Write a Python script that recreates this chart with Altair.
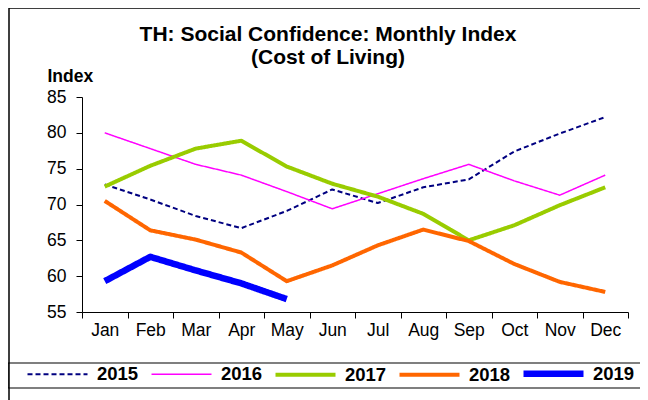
import altair as alt
import pandas as pd

months = ["Jan", "Feb", "Mar", "Apr", "May", "Jun", "Jul", "Aug", "Sep", "Oct", "Nov", "Dec"]
years = ["2015", "2016", "2017", "2018", "2019"]
v2015 = [72.8, 70.7, 68.4, 66.7, 69.1, 72.1, 70.2, 72.4, 73.5, 77.4, 79.9, 82.2]
v2016 = [80.0, 77.8, 75.6, 74.1, 71.8, 69.4, 71.5, 73.6, 75.6, 73.3, 71.3, 74.1]
v2017 = [72.5, 75.4, 77.8, 78.9, 75.3, 72.9, 71.1, 68.7, 65.0, 67.1, 69.9, 72.4]
v2018 = [70.5, 66.4, 65.1, 63.3, 59.3, 61.5, 64.3, 66.5, 64.9, 61.7, 59.2, 57.8]
v2019 = [59.3, 62.7, 60.8, 59.0, 56.8]
title_lines = ["TH: Social Confidence: Monthly Index", "(Cost of Living)"]

colors = ["#000080", "#FF00FF", "#99CC00", "#FF6600", "#0000FF"]
widths = [2, 1.5, 4, 4, 6.5]
dashes = [[5, 3], [1, 0], [1, 0], [1, 0], [1, 0]]

rows = []
for y, vals in zip(years, [v2015, v2016, v2017, v2018, v2019]):
    for m, v in zip(months, vals):
        rows.append({"month": m, "year": y, "value": v})
df = pd.DataFrame(rows)

FONT = "Liberation Sans"
one = pd.DataFrame({"a": [0]})

frame = alt.Chart(one).mark_rect(
    fill="transparent", stroke="#000000", strokeWidth=1.5
).encode(
    x=alt.value(-73), x2=alt.value(600), y=alt.value(-89), y2=alt.value(400)
)

legbox = alt.Chart(one).mark_rect(
    fill="transparent", stroke="#000000", strokeWidth=1.2
).encode(
    x=alt.value(-74), x2=alt.value(600), y=alt.value(266), y2=alt.value(291)
)

title1 = alt.Chart(one).mark_text(
    text=title_lines[0], font=FONT, fontSize=21, fontWeight="bold", color="#000000",
    align="center", baseline="alphabetic"
).encode(x=alt.value(246), y=alt.value(-56))

title2 = alt.Chart(one).mark_text(
    text=title_lines[1], font=FONT, fontSize=21, fontWeight="bold", color="#000000",
    align="center", baseline="alphabetic"
).encode(x=alt.value(246), y=alt.value(-33))

lines = alt.Chart(df).mark_line(strokeCap="butt", strokeJoin="round").encode(
    x=alt.X("month:N", sort=months, scale=alt.Scale(paddingInner=0, paddingOuter=0),
            axis=alt.Axis(title=None, labelAngle=0, labelFontSize=17.5, labelFont=FONT,
                          labelColor="#000000", tickBand="extent", tickSize=6,
                          tickColor="#000000", domainColor="#000000", labelPadding=3,
                          grid=False)),
    y=alt.Y("value:Q", scale=alt.Scale(domain=[55, 85], nice=False, zero=False),
            axis=alt.Axis(values=[55, 60, 65, 70, 75, 80, 85], title="Index",
                          titleAngle=0, titleX=-35, titleY=-16, titleAlign="left",
                          titleBaseline="alphabetic", titleFontSize=17.5, titleFont=FONT,
                          titleFontWeight="bold", titleColor="#000000",
                          labelFontSize=17.5, labelFont=FONT, labelColor="#000000",
                          tickSize=6, tickColor="#000000", domainColor="#000000",
                          labelPadding=10, grid=False)),
    color=alt.Color("year:N", scale=alt.Scale(domain=years, range=colors),
                    legend=alt.Legend(title=None, orient="none", legendX=-58, legendY=243,
                                      direction="horizontal", columns=5, gridAlign="all",
                                      symbolType="stroke", symbolSize=3600,
                                      labelFontSize=18.5, labelFont=FONT,
                                      labelFontWeight="bold", labelColor="#000000",
                                      labelOffset=6, columnPadding=-1)),
    strokeDash=alt.StrokeDash("year:N", scale=alt.Scale(domain=years, range=dashes)),
    strokeWidth=alt.StrokeWidth("year:N", scale=alt.Scale(type="ordinal", domain=years, range=widths)),
)

chart = alt.layer(frame, legbox, title1, title2, lines).properties(
    width=546, height=215,
    padding={"left": 74, "top": 89, "right": 12, "bottom": 90},
    autosize=alt.AutoSizeParams(type="none"),
    view=alt.ViewBackground(stroke="transparent", strokeWidth=0),
).configure_view(stroke="transparent", strokeWidth=0).configure(background="#ffffff")

chart.save("out.html", embed_options={"renderer": "svg", "actions": False})
